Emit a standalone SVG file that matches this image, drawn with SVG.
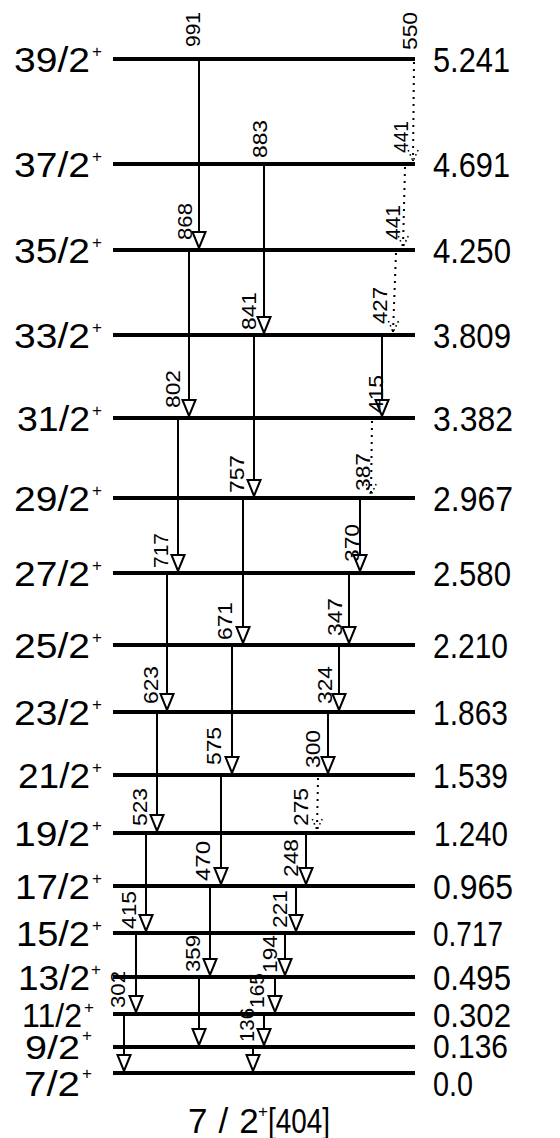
<svg xmlns="http://www.w3.org/2000/svg" width="560" height="1138" viewBox="0 0 560 1138">
<style>
.lvl{stroke:#000;stroke-width:4;fill:none}
.tr{stroke:#000;stroke-width:2;fill:none}
.dt{stroke:#000;stroke-width:2;fill:none;stroke-dasharray:2 5}
.ah{fill:#fff;stroke:#000;stroke-width:2}
.dah{fill:none;stroke:#000;stroke-width:1.6;stroke-dasharray:1.5 3}
text{font-family:"Liberation Sans",Arial,sans-serif;fill:#000}
.big{font-size:35px}
.sm{font-size:33px}
.sup{font-size:17px}
.lab{font-size:20px}
</style>
<defs>
<marker id="arr" viewBox="-18 -8 20 16" markerWidth="20" markerHeight="16" refX="0" refY="0" orient="auto" markerUnits="userSpaceOnUse">
<path class="ah" d="M-16,-6.5 L0,0 L-16,6.5 Z"/>
</marker>
<marker id="darr" viewBox="-14 -7 16 14" markerWidth="16" markerHeight="14" refX="0" refY="0" orient="auto" markerUnits="userSpaceOnUse">
<path class="dah" d="M-11,-5 L0,0 L-11,5"/>
</marker>
</defs>

<g id="levels">
<g id="lv39"><line class="lvl" x1="113" y1="59" x2="415" y2="59"/><text class="big" x="14" y="72" textLength="76" lengthAdjust="spacingAndGlyphs">39/2</text><text class="sup" x="92" y="57">+</text><text class="big" x="433" y="72" textLength="77" lengthAdjust="spacingAndGlyphs">5.241</text></g>
<g id="lv37"><line class="lvl" x1="113" y1="164" x2="415" y2="164"/><text class="big" x="14" y="177" textLength="76" lengthAdjust="spacingAndGlyphs">37/2</text><text class="sup" x="92" y="162">+</text><text class="big" x="433" y="177" textLength="77" lengthAdjust="spacingAndGlyphs">4.691</text></g>
<g id="lv35"><line class="lvl" x1="113" y1="250" x2="415" y2="250"/><text class="big" x="14" y="263" textLength="76" lengthAdjust="spacingAndGlyphs">35/2</text><text class="sup" x="92" y="248">+</text><text class="big" x="433" y="263" textLength="78" lengthAdjust="spacingAndGlyphs">4.250</text></g>
<g id="lv33"><line class="lvl" x1="113" y1="335" x2="415" y2="335"/><text class="big" x="14" y="348" textLength="76" lengthAdjust="spacingAndGlyphs">33/2</text><text class="sup" x="92" y="333">+</text><text class="big" x="433" y="348" textLength="78" lengthAdjust="spacingAndGlyphs">3.809</text></g>
<g id="lv31"><line class="lvl" x1="113" y1="418" x2="415" y2="418"/><text class="big" x="17" y="431" textLength="73" lengthAdjust="spacingAndGlyphs">31/2</text><text class="sup" x="92" y="416">+</text><text class="big" x="433" y="431" textLength="80" lengthAdjust="spacingAndGlyphs">3.382</text></g>
<g id="lv29"><line class="lvl" x1="113" y1="498" x2="415" y2="498"/><text class="big" x="14" y="511" textLength="76" lengthAdjust="spacingAndGlyphs">29/2</text><text class="sup" x="92" y="496">+</text><text class="big" x="433" y="511" textLength="80" lengthAdjust="spacingAndGlyphs">2.967</text></g>
<g id="lv27"><line class="lvl" x1="113" y1="573" x2="415" y2="573"/><text class="big" x="14" y="586" textLength="76" lengthAdjust="spacingAndGlyphs">27/2</text><text class="sup" x="92" y="571">+</text><text class="big" x="433" y="586" textLength="78" lengthAdjust="spacingAndGlyphs">2.580</text></g>
<g id="lv25"><line class="lvl" x1="113" y1="645" x2="415" y2="645"/><text class="big" x="14" y="658" textLength="76" lengthAdjust="spacingAndGlyphs">25/2</text><text class="sup" x="92" y="643">+</text><text class="big" x="433" y="658" textLength="75" lengthAdjust="spacingAndGlyphs">2.210</text></g>
<g id="lv23"><line class="lvl" x1="113" y1="712" x2="415" y2="712"/><text class="big" x="14" y="725" textLength="76" lengthAdjust="spacingAndGlyphs">23/2</text><text class="sup" x="92" y="710">+</text><text class="big" x="433" y="725" textLength="75" lengthAdjust="spacingAndGlyphs">1.863</text></g>
<g id="lv21"><line class="lvl" x1="113" y1="775" x2="415" y2="775"/><text class="big" x="18" y="788" textLength="72" lengthAdjust="spacingAndGlyphs">21/2</text><text class="sup" x="92" y="773">+</text><text class="big" x="433" y="788" textLength="75" lengthAdjust="spacingAndGlyphs">1.539</text></g>
<g id="lv19"><line class="lvl" x1="113" y1="833" x2="415" y2="833"/><text class="big" x="14" y="846" textLength="76" lengthAdjust="spacingAndGlyphs">19/2</text><text class="sup" x="92" y="831">+</text><text class="big" x="434" y="846" textLength="74" lengthAdjust="spacingAndGlyphs">1.240</text></g>
<g id="lv17"><line class="lvl" x1="113" y1="886" x2="415" y2="886"/><text class="big" x="15" y="899" textLength="75" lengthAdjust="spacingAndGlyphs">17/2</text><text class="sup" x="92" y="884">+</text><text class="big" x="433" y="899" textLength="80" lengthAdjust="spacingAndGlyphs">0.965</text></g>
<g id="lv15"><line class="lvl" x1="113" y1="933" x2="415" y2="933"/><text class="big" x="16" y="946" textLength="74" lengthAdjust="spacingAndGlyphs">15/2</text><text class="sup" x="92" y="931">+</text><text class="big" x="433" y="946" textLength="70" lengthAdjust="spacingAndGlyphs">0.717</text></g>
<g id="lv13"><line class="lvl" x1="113" y1="977" x2="415" y2="977"/><text class="big" x="18" y="990" textLength="72" lengthAdjust="spacingAndGlyphs">13/2</text><text class="sup" x="91" y="975">+</text><text class="big" x="433" y="990" textLength="78" lengthAdjust="spacingAndGlyphs">0.495</text></g>
<g id="lv11"><line class="lvl" x1="113" y1="1014" x2="415" y2="1014"/><text class="sm" x="22" y="1027" textLength="60" lengthAdjust="spacingAndGlyphs">11/2</text><text class="sup" x="84" y="1013">+</text><text class="sm" x="433" y="1027" textLength="78" lengthAdjust="spacingAndGlyphs">0.302</text></g>
<g id="lv9"><line class="lvl" x1="113" y1="1047" x2="415" y2="1047"/><text class="sm" x="25" y="1059" textLength="55" lengthAdjust="spacingAndGlyphs">9/2</text><text class="sup" x="82" y="1041">+</text><text class="sm" x="433" y="1058" textLength="75" lengthAdjust="spacingAndGlyphs">0.136</text></g>
<g id="lv7"><line class="lvl" x1="113" y1="1073" x2="415" y2="1073"/><text class="big" x="24" y="1096" textLength="56" lengthAdjust="spacingAndGlyphs">7/2</text><text class="sup" x="82" y="1079">+</text><text class="big" x="433" y="1096" textLength="40" lengthAdjust="spacingAndGlyphs">0.0</text></g>
</g>

<g id="connectors">
<line class="tr" x1="199" y1="59" x2="199" y2="248" marker-end="url(#arr)"/>
<line class="tr" x1="189" y1="250" x2="189" y2="416" marker-end="url(#arr)"/>
<line class="tr" x1="178" y1="418" x2="178" y2="571" marker-end="url(#arr)"/>
<line class="tr" x1="167" y1="573" x2="167" y2="710" marker-end="url(#arr)"/>
<line class="tr" x1="157" y1="712" x2="157" y2="831" marker-end="url(#arr)"/>
<line class="tr" x1="146" y1="833" x2="146" y2="931" marker-end="url(#arr)"/>
<line class="tr" x1="136" y1="933" x2="136" y2="1012" marker-end="url(#arr)"/>
<line class="tr" x1="124" y1="1014" x2="124" y2="1071" marker-end="url(#arr)"/>
<line class="tr" x1="264" y1="164" x2="264" y2="333" marker-end="url(#arr)"/>
<line class="tr" x1="254" y1="335" x2="254" y2="496" marker-end="url(#arr)"/>
<line class="tr" x1="243" y1="498" x2="243" y2="643" marker-end="url(#arr)"/>
<line class="tr" x1="232" y1="645" x2="232" y2="773" marker-end="url(#arr)"/>
<line class="tr" x1="221" y1="775" x2="221" y2="884" marker-end="url(#arr)"/>
<line class="tr" x1="210" y1="886" x2="210" y2="975" marker-end="url(#arr)"/>
<line class="tr" x1="199" y1="977" x2="199" y2="1045" marker-end="url(#arr)"/>
<line class="dt" x1="414" y1="62" x2="413" y2="161" marker-end="url(#darr)"/>
<line class="dt" x1="405" y1="167" x2="403" y2="247" marker-end="url(#darr)"/>
<line class="dt" x1="396" y1="253" x2="393" y2="332" marker-end="url(#darr)"/>
<line class="tr" x1="382" y1="335" x2="382" y2="416" marker-end="url(#arr)"/>
<line class="dt" x1="372" y1="421" x2="371" y2="495" marker-end="url(#darr)"/>
<line class="tr" x1="360" y1="498" x2="360" y2="571" marker-end="url(#arr)"/>
<line class="tr" x1="349" y1="573" x2="349" y2="643" marker-end="url(#arr)"/>
<line class="tr" x1="339" y1="645" x2="339" y2="710" marker-end="url(#arr)"/>
<line class="tr" x1="328" y1="712" x2="328" y2="773" marker-end="url(#arr)"/>
<line class="dt" x1="318" y1="778" x2="317" y2="830" marker-end="url(#darr)"/>
<line class="tr" x1="306" y1="833" x2="306" y2="884" marker-end="url(#arr)"/>
<line class="tr" x1="296" y1="886" x2="296" y2="931" marker-end="url(#arr)"/>
<line class="tr" x1="285" y1="933" x2="285" y2="975" marker-end="url(#arr)"/>
<line class="tr" x1="275" y1="977" x2="275" y2="1012" marker-end="url(#arr)"/>
<line class="tr" x1="264" y1="1014" x2="264" y2="1045" marker-end="url(#arr)"/>
<line class="tr" x1="253" y1="1047" x2="253" y2="1071" marker-end="url(#arr)"/>
</g>

<g id="gamma-labels">
<text class="lab" transform="translate(200,47) rotate(-90)" textLength="35" lengthAdjust="spacingAndGlyphs">991</text>
<text class="lab" transform="translate(192,240) rotate(-90)" textLength="37" lengthAdjust="spacingAndGlyphs">868</text>
<text class="lab" transform="translate(180,408) rotate(-90)" textLength="38" lengthAdjust="spacingAndGlyphs">802</text>
<text class="lab" transform="translate(168,568) rotate(-90)" textLength="35" lengthAdjust="spacingAndGlyphs">717</text>
<text class="lab" transform="translate(158,704) rotate(-90)" textLength="38" lengthAdjust="spacingAndGlyphs">623</text>
<text class="lab" transform="translate(147,826) rotate(-90)" textLength="38" lengthAdjust="spacingAndGlyphs">523</text>
<text class="lab" transform="translate(136,929) rotate(-90)" textLength="38" lengthAdjust="spacingAndGlyphs">415</text>
<text class="lab" transform="translate(125,1008) rotate(-90)" textLength="37" lengthAdjust="spacingAndGlyphs">302</text>
<text class="lab" transform="translate(267,158) rotate(-90)" textLength="38" lengthAdjust="spacingAndGlyphs">883</text>
<text class="lab" transform="translate(256,330) rotate(-90)" textLength="38" lengthAdjust="spacingAndGlyphs">841</text>
<text class="lab" transform="translate(244,493) rotate(-90)" textLength="38" lengthAdjust="spacingAndGlyphs">757</text>
<text class="lab" transform="translate(232,640) rotate(-90)" textLength="38" lengthAdjust="spacingAndGlyphs">671</text>
<text class="lab" transform="translate(221,765) rotate(-90)" textLength="38" lengthAdjust="spacingAndGlyphs">575</text>
<text class="lab" transform="translate(210,881) rotate(-90)" textLength="40" lengthAdjust="spacingAndGlyphs">470</text>
<text class="lab" transform="translate(200,972) rotate(-90)" textLength="37" lengthAdjust="spacingAndGlyphs">359</text>
<text class="lab" transform="translate(417,50) rotate(-90)" textLength="38" lengthAdjust="spacingAndGlyphs">550</text>
<text class="lab" transform="translate(408,153) rotate(-90)" textLength="32" lengthAdjust="spacingAndGlyphs">441</text>
<text class="lab" transform="translate(400,240) rotate(-90)" textLength="35" lengthAdjust="spacingAndGlyphs">441</text>
<text class="lab" transform="translate(387,324) rotate(-90)" textLength="37" lengthAdjust="spacingAndGlyphs">427</text>
<text class="lab" transform="translate(383,413) rotate(-90)" textLength="38" lengthAdjust="spacingAndGlyphs">415</text>
<text class="lab" transform="translate(370,491) rotate(-90)" textLength="38" lengthAdjust="spacingAndGlyphs">387</text>
<text class="lab" transform="translate(359,562) rotate(-90)" textLength="38" lengthAdjust="spacingAndGlyphs">370</text>
<text class="lab" transform="translate(342,636) rotate(-90)" textLength="38" lengthAdjust="spacingAndGlyphs">347</text>
<text class="lab" transform="translate(332,704) rotate(-90)" textLength="38" lengthAdjust="spacingAndGlyphs">324</text>
<text class="lab" transform="translate(320,768) rotate(-90)" textLength="38" lengthAdjust="spacingAndGlyphs">300</text>
<text class="lab" transform="translate(308,826) rotate(-90)" textLength="38" lengthAdjust="spacingAndGlyphs">275</text>
<text class="lab" transform="translate(298,877) rotate(-90)" textLength="38" lengthAdjust="spacingAndGlyphs">248</text>
<text class="lab" transform="translate(287,928) rotate(-90)" textLength="38" lengthAdjust="spacingAndGlyphs">221</text>
<text class="lab" transform="translate(277,973) rotate(-90)" textLength="38" lengthAdjust="spacingAndGlyphs">194</text>
<text class="lab" transform="translate(264,1008) rotate(-90)" textLength="35" lengthAdjust="spacingAndGlyphs">165</text>
<text class="lab" transform="translate(254,1042) rotate(-90)" textLength="34" lengthAdjust="spacingAndGlyphs">136</text>
</g>

<g id="band-label">
<text class="big" x="188" y="1133" style="letter-spacing:11px">7/2</text>
<text class="sup" x="258" y="1117">+</text>
<text class="big" x="268" y="1133" textLength="62" lengthAdjust="spacingAndGlyphs">[404]</text>
</g>
</svg>
